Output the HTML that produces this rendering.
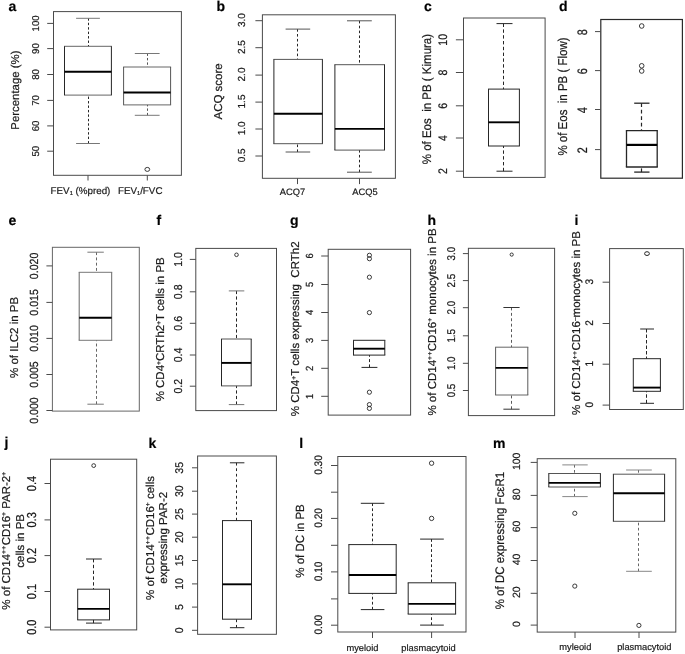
<!DOCTYPE html>
<html><head><meta charset="utf-8"><style>
html,body{margin:0;padding:0;background:#fff;width:685px;height:654px;overflow:hidden;}
svg{display:block;font-family:"Liberation Sans", sans-serif;filter:grayscale(1) blur(0.25px);text-rendering:geometricPrecision;}
text{stroke:#1a1a1a;stroke-width:0.2;}
</style></head><body>
<svg width="685" height="654" viewBox="0 0 685 654">
<rect x="0" y="0" width="685" height="654" fill="#fff"/>
<rect x="53.50" y="11.60" width="127.90" height="163.70" fill="none" stroke="#4a4a4a" stroke-width="1.0"/>
<line x1="47.20" y1="23.40" x2="53.50" y2="23.40" stroke="#4a4a4a" stroke-width="1.0"/>
<text transform="translate(38.60,23.40) rotate(-90) scale(1.0,1.03)" font-size="9.6" text-anchor="middle" fill="#1a1a1a" xml:space="preserve">100</text>
<line x1="47.20" y1="48.60" x2="53.50" y2="48.60" stroke="#4a4a4a" stroke-width="1.0"/>
<text transform="translate(38.60,48.60) rotate(-90) scale(1.0,1.03)" font-size="9.6" text-anchor="middle" fill="#1a1a1a" xml:space="preserve">90</text>
<line x1="47.20" y1="74.50" x2="53.50" y2="74.50" stroke="#4a4a4a" stroke-width="1.0"/>
<text transform="translate(38.60,74.50) rotate(-90) scale(1.0,1.03)" font-size="9.6" text-anchor="middle" fill="#1a1a1a" xml:space="preserve">80</text>
<line x1="47.20" y1="100.40" x2="53.50" y2="100.40" stroke="#4a4a4a" stroke-width="1.0"/>
<text transform="translate(38.60,100.40) rotate(-90) scale(1.0,1.03)" font-size="9.6" text-anchor="middle" fill="#1a1a1a" xml:space="preserve">70</text>
<line x1="47.20" y1="125.90" x2="53.50" y2="125.90" stroke="#4a4a4a" stroke-width="1.0"/>
<text transform="translate(38.60,125.90) rotate(-90) scale(1.0,1.03)" font-size="9.6" text-anchor="middle" fill="#1a1a1a" xml:space="preserve">60</text>
<line x1="47.20" y1="151.20" x2="53.50" y2="151.20" stroke="#4a4a4a" stroke-width="1.0"/>
<text transform="translate(38.60,151.20) rotate(-90) scale(1.0,1.03)" font-size="9.6" text-anchor="middle" fill="#1a1a1a" xml:space="preserve">50</text>
<text transform="translate(19.40,90.10) rotate(-90)" font-size="11.4" text-anchor="middle" fill="#1a1a1a" xml:space="preserve">Percentage (%)</text>
<line x1="88.00" y1="175.30" x2="88.00" y2="180.50" stroke="#4a4a4a" stroke-width="1.0"/>
<text x="80.50" y="194.30" font-size="9.8" text-anchor="middle" fill="#1a1a1a" xml:space="preserve">FEV<tspan dy="1.18" font-size="5.68">1</tspan><tspan dy="-1.18"> (%pred)</tspan></text>
<line x1="147.30" y1="175.30" x2="147.30" y2="180.50" stroke="#4a4a4a" stroke-width="1.0"/>
<text x="140.20" y="194.30" font-size="9.8" text-anchor="middle" fill="#1a1a1a" xml:space="preserve">FEV<tspan dy="1.18" font-size="5.68">1</tspan><tspan dy="-1.18">/FVC</tspan></text>
<line x1="88.50" y1="18.30" x2="88.50" y2="46.30" stroke="#262626" stroke-width="1.0" stroke-dasharray="2.4,2.05"/>
<line x1="76.10" y1="18.30" x2="99.90" y2="18.30" stroke="#777" stroke-width="1.0"/>
<line x1="88.50" y1="143.50" x2="88.50" y2="95.10" stroke="#262626" stroke-width="1.0" stroke-dasharray="2.4,2.05"/>
<line x1="76.10" y1="143.50" x2="99.90" y2="143.50" stroke="#777" stroke-width="1.0"/>
<line x1="64.00" y1="46.30" x2="111.90" y2="46.30" stroke="#666" stroke-width="1.0"/>
<line x1="64.00" y1="95.10" x2="111.90" y2="95.10" stroke="#666" stroke-width="1.0"/>
<line x1="64.50" y1="46.30" x2="64.50" y2="95.10" stroke="#262626" stroke-width="1.0"/>
<line x1="111.40" y1="46.30" x2="111.40" y2="95.10" stroke="#262626" stroke-width="1.0"/>
<line x1="64.50" y1="71.80" x2="111.40" y2="71.80" stroke="#000" stroke-width="1.9"/>
<line x1="147.50" y1="53.50" x2="147.50" y2="67.00" stroke="#555" stroke-width="1.0" stroke-dasharray="2.4,2.05"/>
<line x1="134.80" y1="53.50" x2="159.60" y2="53.50" stroke="#777" stroke-width="1.0"/>
<line x1="147.50" y1="115.30" x2="147.50" y2="104.90" stroke="#555" stroke-width="1.0" stroke-dasharray="2.4,2.05"/>
<line x1="134.80" y1="115.30" x2="159.60" y2="115.30" stroke="#777" stroke-width="1.0"/>
<line x1="123.10" y1="67.00" x2="171.10" y2="67.00" stroke="#666" stroke-width="1.0"/>
<line x1="123.10" y1="104.90" x2="171.10" y2="104.90" stroke="#666" stroke-width="1.0"/>
<line x1="123.60" y1="67.00" x2="123.60" y2="104.90" stroke="#555" stroke-width="1.0"/>
<line x1="170.60" y1="67.00" x2="170.60" y2="104.90" stroke="#555" stroke-width="1.0"/>
<line x1="123.60" y1="92.50" x2="170.60" y2="92.50" stroke="#000" stroke-width="1.9"/>
<ellipse cx="147.30" cy="169.40" rx="2.4" ry="2.0" fill="none" stroke="#262626" stroke-width="0.9"/>
<text x="8.40" y="11.00" font-size="14" text-anchor="start" fill="#000" font-weight="bold" xml:space="preserve">a</text>
<rect x="262.40" y="14.80" width="133.00" height="163.50" fill="none" stroke="#4a4a4a" stroke-width="1.0"/>
<line x1="255.40" y1="20.70" x2="262.40" y2="20.70" stroke="#4a4a4a" stroke-width="1.0"/>
<text transform="translate(245.20,20.10) rotate(-90) scale(1.0,1.02)" font-size="10" text-anchor="middle" fill="#1a1a1a" xml:space="preserve">3.0</text>
<line x1="255.40" y1="47.70" x2="262.40" y2="47.70" stroke="#4a4a4a" stroke-width="1.0"/>
<text transform="translate(245.20,47.10) rotate(-90) scale(1.0,1.02)" font-size="10" text-anchor="middle" fill="#1a1a1a" xml:space="preserve">2.5</text>
<line x1="255.40" y1="75.10" x2="262.40" y2="75.10" stroke="#4a4a4a" stroke-width="1.0"/>
<text transform="translate(245.20,74.50) rotate(-90) scale(1.0,1.02)" font-size="10" text-anchor="middle" fill="#1a1a1a" xml:space="preserve">2.0</text>
<line x1="255.40" y1="102.10" x2="262.40" y2="102.10" stroke="#4a4a4a" stroke-width="1.0"/>
<text transform="translate(245.20,101.50) rotate(-90) scale(1.0,1.02)" font-size="10" text-anchor="middle" fill="#1a1a1a" xml:space="preserve">1.5</text>
<line x1="255.40" y1="129.00" x2="262.40" y2="129.00" stroke="#4a4a4a" stroke-width="1.0"/>
<text transform="translate(245.20,128.40) rotate(-90) scale(1.0,1.02)" font-size="10" text-anchor="middle" fill="#1a1a1a" xml:space="preserve">1.0</text>
<line x1="255.40" y1="156.00" x2="262.40" y2="156.00" stroke="#4a4a4a" stroke-width="1.0"/>
<text transform="translate(245.20,155.40) rotate(-90) scale(1.0,1.02)" font-size="10" text-anchor="middle" fill="#1a1a1a" xml:space="preserve">0.5</text>
<text transform="translate(222.20,91.40) rotate(-90)" font-size="11.5" text-anchor="middle" fill="#1a1a1a" xml:space="preserve">ACQ score</text>
<line x1="297.50" y1="178.30" x2="297.50" y2="184.10" stroke="#4a4a4a" stroke-width="1.0"/>
<text x="292.50" y="194.50" font-size="9.3" text-anchor="middle" fill="#1a1a1a" xml:space="preserve">ACQ7</text>
<line x1="359.50" y1="178.30" x2="359.50" y2="184.10" stroke="#4a4a4a" stroke-width="1.0"/>
<text x="365.00" y="194.50" font-size="9.3" text-anchor="middle" fill="#1a1a1a" xml:space="preserve">ACQ5</text>
<line x1="297.50" y1="29.10" x2="297.50" y2="59.40" stroke="#262626" stroke-width="1.0" stroke-dasharray="2.6,2.3"/>
<line x1="285.60" y1="29.10" x2="310.20" y2="29.10" stroke="#555" stroke-width="1.0"/>
<line x1="297.50" y1="152.00" x2="297.50" y2="143.70" stroke="#262626" stroke-width="1.0" stroke-dasharray="2.6,2.3"/>
<line x1="285.60" y1="152.00" x2="310.20" y2="152.00" stroke="#555" stroke-width="1.0"/>
<line x1="273.40" y1="59.40" x2="322.90" y2="59.40" stroke="#555" stroke-width="1.0"/>
<line x1="273.40" y1="143.70" x2="322.90" y2="143.70" stroke="#555" stroke-width="1.0"/>
<line x1="273.90" y1="59.40" x2="273.90" y2="143.70" stroke="#262626" stroke-width="1.0"/>
<line x1="322.40" y1="59.40" x2="322.40" y2="143.70" stroke="#262626" stroke-width="1.0"/>
<line x1="273.90" y1="113.80" x2="322.40" y2="113.80" stroke="#000" stroke-width="1.9"/>
<line x1="359.50" y1="20.80" x2="359.50" y2="64.70" stroke="#262626" stroke-width="1.0" stroke-dasharray="2.6,2.3"/>
<line x1="347.00" y1="20.80" x2="371.80" y2="20.80" stroke="#555" stroke-width="1.0"/>
<line x1="359.50" y1="172.20" x2="359.50" y2="150.10" stroke="#262626" stroke-width="1.0" stroke-dasharray="2.6,2.3"/>
<line x1="347.00" y1="172.20" x2="371.80" y2="172.20" stroke="#555" stroke-width="1.0"/>
<line x1="334.40" y1="64.70" x2="385.00" y2="64.70" stroke="#555" stroke-width="1.0"/>
<line x1="334.40" y1="150.10" x2="385.00" y2="150.10" stroke="#555" stroke-width="1.0"/>
<line x1="334.90" y1="64.70" x2="334.90" y2="150.10" stroke="#262626" stroke-width="1.0"/>
<line x1="384.50" y1="64.70" x2="384.50" y2="150.10" stroke="#262626" stroke-width="1.0"/>
<line x1="334.90" y1="128.90" x2="384.50" y2="128.90" stroke="#000" stroke-width="1.9"/>
<text x="216.50" y="11.00" font-size="14" text-anchor="start" fill="#000" font-weight="bold" xml:space="preserve">b</text>
<rect x="463.50" y="18.00" width="81.60" height="159.40" fill="none" stroke="#4a4a4a" stroke-width="1.0"/>
<line x1="455.90" y1="39.80" x2="463.50" y2="39.80" stroke="#4a4a4a" stroke-width="1.0"/>
<text transform="translate(447.00,39.80) rotate(-90) scale(1.0,1.18)" font-size="10.5" text-anchor="middle" fill="#1a1a1a" xml:space="preserve">10</text>
<line x1="455.90" y1="72.50" x2="463.50" y2="72.50" stroke="#4a4a4a" stroke-width="1.0"/>
<text transform="translate(447.00,72.50) rotate(-90) scale(1.0,1.18)" font-size="10.5" text-anchor="middle" fill="#1a1a1a" xml:space="preserve">8</text>
<line x1="455.90" y1="105.80" x2="463.50" y2="105.80" stroke="#4a4a4a" stroke-width="1.0"/>
<text transform="translate(447.00,105.80) rotate(-90) scale(1.0,1.18)" font-size="10.5" text-anchor="middle" fill="#1a1a1a" xml:space="preserve">6</text>
<line x1="455.90" y1="138.00" x2="463.50" y2="138.00" stroke="#4a4a4a" stroke-width="1.0"/>
<text transform="translate(447.00,138.00) rotate(-90) scale(1.0,1.18)" font-size="10.5" text-anchor="middle" fill="#1a1a1a" xml:space="preserve">4</text>
<line x1="455.90" y1="171.20" x2="463.50" y2="171.20" stroke="#4a4a4a" stroke-width="1.0"/>
<text transform="translate(447.00,171.20) rotate(-90) scale(1.0,1.18)" font-size="10.5" text-anchor="middle" fill="#1a1a1a" xml:space="preserve">2</text>
<text transform="translate(430.80,99.10) rotate(-90) scale(1.0,1.08)" font-size="11.5" text-anchor="middle" fill="#1a1a1a" xml:space="preserve">% of Eos  in PB ( Kimura)</text>
<line x1="503.50" y1="23.60" x2="503.50" y2="89.10" stroke="#262626" stroke-width="1.0" stroke-dasharray="3.4,2.4"/>
<line x1="496.50" y1="23.60" x2="512.50" y2="23.60" stroke="#262626" stroke-width="1.0"/>
<line x1="503.50" y1="171.20" x2="503.50" y2="146.00" stroke="#262626" stroke-width="1.0" stroke-dasharray="3.4,2.4"/>
<line x1="496.50" y1="171.20" x2="512.50" y2="171.20" stroke="#262626" stroke-width="1.0"/>
<line x1="488.00" y1="89.10" x2="519.90" y2="89.10" stroke="#262626" stroke-width="1.0"/>
<line x1="488.00" y1="146.00" x2="519.90" y2="146.00" stroke="#262626" stroke-width="1.0"/>
<line x1="488.50" y1="89.10" x2="488.50" y2="146.00" stroke="#262626" stroke-width="1.0"/>
<line x1="519.40" y1="89.10" x2="519.40" y2="146.00" stroke="#262626" stroke-width="1.0"/>
<line x1="488.50" y1="122.30" x2="519.40" y2="122.30" stroke="#000" stroke-width="1.9"/>
<text x="424.10" y="11.00" font-size="14" text-anchor="start" fill="#000" font-weight="bold" xml:space="preserve">c</text>
<rect x="600.80" y="19.50" width="81.60" height="158.70" fill="none" stroke="#2a2a2a" stroke-width="1.2"/>
<line x1="595.00" y1="31.60" x2="600.80" y2="31.60" stroke="#4a4a4a" stroke-width="1.0"/>
<text transform="translate(586.90,32.30) rotate(-90) scale(1.0,1.27)" font-size="10.8" text-anchor="middle" fill="#1a1a1a" xml:space="preserve">8</text>
<line x1="595.00" y1="70.60" x2="600.80" y2="70.60" stroke="#4a4a4a" stroke-width="1.0"/>
<text transform="translate(586.90,71.30) rotate(-90) scale(1.0,1.27)" font-size="10.8" text-anchor="middle" fill="#1a1a1a" xml:space="preserve">6</text>
<line x1="595.00" y1="109.50" x2="600.80" y2="109.50" stroke="#4a4a4a" stroke-width="1.0"/>
<text transform="translate(586.90,110.20) rotate(-90) scale(1.0,1.27)" font-size="10.8" text-anchor="middle" fill="#1a1a1a" xml:space="preserve">4</text>
<line x1="595.00" y1="149.60" x2="600.80" y2="149.60" stroke="#4a4a4a" stroke-width="1.0"/>
<text transform="translate(586.90,150.30) rotate(-90) scale(1.0,1.27)" font-size="10.8" text-anchor="middle" fill="#1a1a1a" xml:space="preserve">2</text>
<text transform="translate(567.30,96.50) rotate(-90) scale(1.0,1.12)" font-size="11.5" text-anchor="middle" fill="#1a1a1a" xml:space="preserve">% of Eos  in PB ( Flow)</text>
<line x1="641.50" y1="103.20" x2="641.50" y2="130.60" stroke="#262626" stroke-width="1.2" stroke-dasharray="3.7,2.8"/>
<line x1="634.20" y1="103.20" x2="649.50" y2="103.20" stroke="#262626" stroke-width="1.3"/>
<line x1="641.50" y1="172.10" x2="641.50" y2="167.00" stroke="#262626" stroke-width="1.2" stroke-dasharray="3.7,2.8"/>
<line x1="634.20" y1="172.10" x2="649.50" y2="172.10" stroke="#262626" stroke-width="1.3"/>
<line x1="625.85" y1="130.60" x2="657.85" y2="130.60" stroke="#262626" stroke-width="1.3"/>
<line x1="625.85" y1="167.00" x2="657.85" y2="167.00" stroke="#262626" stroke-width="1.3"/>
<line x1="626.50" y1="130.60" x2="626.50" y2="167.00" stroke="#262626" stroke-width="1.3"/>
<line x1="657.20" y1="130.60" x2="657.20" y2="167.00" stroke="#262626" stroke-width="1.3"/>
<line x1="626.50" y1="144.90" x2="657.20" y2="144.90" stroke="#000" stroke-width="2.2"/>
<circle cx="641.70" cy="26.00" r="2.3" fill="none" stroke="#262626" stroke-width="0.9"/>
<circle cx="641.70" cy="65.80" r="2.3" fill="none" stroke="#262626" stroke-width="0.9"/>
<circle cx="641.70" cy="71.00" r="2.3" fill="none" stroke="#262626" stroke-width="0.9"/>
<text x="558.90" y="11.00" font-size="14" text-anchor="start" fill="#000" font-weight="bold" xml:space="preserve">d</text>
<rect x="52.40" y="247.30" width="86.90" height="163.80" fill="none" stroke="#666" stroke-width="1.0"/>
<line x1="46.40" y1="265.90" x2="52.40" y2="265.90" stroke="#4a4a4a" stroke-width="1.0"/>
<text transform="translate(38.10,265.90) rotate(-90) scale(1.0,1.11)" font-size="10.6" text-anchor="middle" fill="#1a1a1a" xml:space="preserve">0.020</text>
<line x1="46.40" y1="302.40" x2="52.40" y2="302.40" stroke="#4a4a4a" stroke-width="1.0"/>
<text transform="translate(38.10,302.40) rotate(-90) scale(1.0,1.11)" font-size="10.6" text-anchor="middle" fill="#1a1a1a" xml:space="preserve">0.015</text>
<line x1="46.40" y1="338.40" x2="52.40" y2="338.40" stroke="#4a4a4a" stroke-width="1.0"/>
<text transform="translate(38.10,338.40) rotate(-90) scale(1.0,1.11)" font-size="10.6" text-anchor="middle" fill="#1a1a1a" xml:space="preserve">0.010</text>
<line x1="46.40" y1="374.50" x2="52.40" y2="374.50" stroke="#4a4a4a" stroke-width="1.0"/>
<text transform="translate(38.10,374.50) rotate(-90) scale(1.0,1.11)" font-size="10.6" text-anchor="middle" fill="#1a1a1a" xml:space="preserve">0.005</text>
<line x1="46.40" y1="410.50" x2="52.40" y2="410.50" stroke="#4a4a4a" stroke-width="1.0"/>
<text transform="translate(38.10,410.50) rotate(-90) scale(1.0,1.11)" font-size="10.6" text-anchor="middle" fill="#1a1a1a" xml:space="preserve">0.000</text>
<text transform="translate(18.30,337.40) rotate(-90)" font-size="11.5" text-anchor="middle" fill="#1a1a1a" xml:space="preserve">% of ILC2 in PB</text>
<line x1="96.50" y1="252.20" x2="96.50" y2="272.30" stroke="#666" stroke-width="1.0" stroke-dasharray="2.9,2.35"/>
<line x1="87.40" y1="252.20" x2="103.80" y2="252.20" stroke="#777" stroke-width="1.0"/>
<line x1="96.50" y1="404.20" x2="96.50" y2="340.30" stroke="#666" stroke-width="1.0" stroke-dasharray="2.9,2.35"/>
<line x1="87.40" y1="404.20" x2="103.80" y2="404.20" stroke="#777" stroke-width="1.0"/>
<line x1="78.70" y1="272.30" x2="112.20" y2="272.30" stroke="#777" stroke-width="1.0"/>
<line x1="78.70" y1="340.30" x2="112.20" y2="340.30" stroke="#777" stroke-width="1.0"/>
<line x1="79.20" y1="272.30" x2="79.20" y2="340.30" stroke="#666" stroke-width="1.0"/>
<line x1="111.70" y1="272.30" x2="111.70" y2="340.30" stroke="#666" stroke-width="1.0"/>
<line x1="79.20" y1="317.80" x2="111.70" y2="317.80" stroke="#000" stroke-width="1.9"/>
<text x="8.40" y="225.00" font-size="14" text-anchor="start" fill="#000" font-weight="bold" xml:space="preserve">e</text>
<rect x="195.80" y="248.40" width="80.70" height="162.20" fill="none" stroke="#4a4a4a" stroke-width="1.0"/>
<line x1="189.80" y1="259.40" x2="195.80" y2="259.40" stroke="#4a4a4a" stroke-width="1.0"/>
<text transform="translate(181.80,259.40) rotate(-90) scale(1.0,1.085)" font-size="10.6" text-anchor="middle" fill="#1a1a1a" xml:space="preserve">1.0</text>
<line x1="189.80" y1="291.80" x2="195.80" y2="291.80" stroke="#4a4a4a" stroke-width="1.0"/>
<text transform="translate(181.80,291.80) rotate(-90) scale(1.0,1.085)" font-size="10.6" text-anchor="middle" fill="#1a1a1a" xml:space="preserve">0.8</text>
<line x1="189.80" y1="323.30" x2="195.80" y2="323.30" stroke="#4a4a4a" stroke-width="1.0"/>
<text transform="translate(181.80,323.30) rotate(-90) scale(1.0,1.085)" font-size="10.6" text-anchor="middle" fill="#1a1a1a" xml:space="preserve">0.6</text>
<line x1="189.80" y1="355.00" x2="195.80" y2="355.00" stroke="#4a4a4a" stroke-width="1.0"/>
<text transform="translate(181.80,355.00) rotate(-90) scale(1.0,1.085)" font-size="10.6" text-anchor="middle" fill="#1a1a1a" xml:space="preserve">0.4</text>
<line x1="189.80" y1="386.20" x2="195.80" y2="386.20" stroke="#4a4a4a" stroke-width="1.0"/>
<text transform="translate(181.80,386.20) rotate(-90) scale(1.0,1.085)" font-size="10.6" text-anchor="middle" fill="#1a1a1a" xml:space="preserve">0.2</text>
<text transform="translate(164.20,329.30) rotate(-90)" font-size="11.5" text-anchor="middle" fill="#1a1a1a" xml:space="preserve">% CD4<tspan dy="-3.45" font-size="6.67">+</tspan><tspan dy="3.45">CRTh2</tspan><tspan dy="-3.45" font-size="6.67">+</tspan><tspan dy="3.45">T cells in PB</tspan></text>
<line x1="236.50" y1="290.90" x2="236.50" y2="339.00" stroke="#262626" stroke-width="1.0" stroke-dasharray="3.2,2.3"/>
<line x1="228.80" y1="290.90" x2="244.30" y2="290.90" stroke="#777" stroke-width="1.0"/>
<line x1="236.50" y1="404.60" x2="236.50" y2="385.90" stroke="#262626" stroke-width="1.0" stroke-dasharray="3.2,2.3"/>
<line x1="228.80" y1="404.60" x2="244.30" y2="404.60" stroke="#777" stroke-width="1.0"/>
<line x1="221.00" y1="339.00" x2="251.70" y2="339.00" stroke="#555" stroke-width="1.0"/>
<line x1="221.00" y1="385.90" x2="251.70" y2="385.90" stroke="#555" stroke-width="1.0"/>
<line x1="221.50" y1="339.00" x2="221.50" y2="385.90" stroke="#262626" stroke-width="1.0"/>
<line x1="251.20" y1="339.00" x2="251.20" y2="385.90" stroke="#262626" stroke-width="1.0"/>
<line x1="221.50" y1="362.90" x2="251.20" y2="362.90" stroke="#000" stroke-width="1.9"/>
<circle cx="236.50" cy="254.80" r="1.8" fill="none" stroke="#262626" stroke-width="0.9"/>
<text x="156.50" y="225.00" font-size="14" text-anchor="start" fill="#000" font-weight="bold" xml:space="preserve">f</text>
<rect x="328.20" y="249.30" width="82.40" height="165.80" fill="none" stroke="#4a4a4a" stroke-width="1.0"/>
<line x1="321.20" y1="256.00" x2="328.20" y2="256.00" stroke="#4a4a4a" stroke-width="1.0"/>
<text transform="translate(313.00,256.00) rotate(-90) scale(1.0,1.1)" font-size="9.4" text-anchor="middle" fill="#1a1a1a" xml:space="preserve">6</text>
<line x1="321.20" y1="284.50" x2="328.20" y2="284.50" stroke="#4a4a4a" stroke-width="1.0"/>
<text transform="translate(313.00,284.50) rotate(-90) scale(1.0,1.1)" font-size="9.4" text-anchor="middle" fill="#1a1a1a" xml:space="preserve">5</text>
<line x1="321.20" y1="312.50" x2="328.20" y2="312.50" stroke="#4a4a4a" stroke-width="1.0"/>
<text transform="translate(313.00,312.50) rotate(-90) scale(1.0,1.1)" font-size="9.4" text-anchor="middle" fill="#1a1a1a" xml:space="preserve">4</text>
<line x1="321.20" y1="340.40" x2="328.20" y2="340.40" stroke="#4a4a4a" stroke-width="1.0"/>
<text transform="translate(313.00,340.40) rotate(-90) scale(1.0,1.1)" font-size="9.4" text-anchor="middle" fill="#1a1a1a" xml:space="preserve">3</text>
<line x1="321.20" y1="368.30" x2="328.20" y2="368.30" stroke="#4a4a4a" stroke-width="1.0"/>
<text transform="translate(313.00,368.30) rotate(-90) scale(1.0,1.1)" font-size="9.4" text-anchor="middle" fill="#1a1a1a" xml:space="preserve">2</text>
<line x1="321.20" y1="396.30" x2="328.20" y2="396.30" stroke="#4a4a4a" stroke-width="1.0"/>
<text transform="translate(313.00,396.30) rotate(-90) scale(1.0,1.1)" font-size="9.4" text-anchor="middle" fill="#1a1a1a" xml:space="preserve">1</text>
<text transform="translate(299.40,328.80) rotate(-90)" font-size="11.5" text-anchor="middle" fill="#1a1a1a" xml:space="preserve">% CD4<tspan dy="-3.45" font-size="6.67">+</tspan><tspan dy="3.45">T cells expressing  CRTh2</tspan></text>
<line x1="369.50" y1="367.40" x2="369.50" y2="355.10" stroke="#262626" stroke-width="1.0" stroke-dasharray="3,2.3"/>
<line x1="361.50" y1="367.40" x2="377.40" y2="367.40" stroke="#262626" stroke-width="1.0"/>
<line x1="353.00" y1="340.30" x2="385.30" y2="340.30" stroke="#262626" stroke-width="1.0"/>
<line x1="353.00" y1="355.10" x2="385.30" y2="355.10" stroke="#262626" stroke-width="1.0"/>
<line x1="353.50" y1="340.30" x2="353.50" y2="355.10" stroke="#262626" stroke-width="1.0"/>
<line x1="384.80" y1="340.30" x2="384.80" y2="355.10" stroke="#262626" stroke-width="1.0"/>
<line x1="353.50" y1="348.70" x2="384.80" y2="348.70" stroke="#000" stroke-width="1.9"/>
<circle cx="369.40" cy="255.30" r="2.1" fill="none" stroke="#262626" stroke-width="0.9"/>
<circle cx="369.40" cy="258.70" r="2.1" fill="none" stroke="#262626" stroke-width="0.9"/>
<circle cx="369.40" cy="277.20" r="2.1" fill="none" stroke="#262626" stroke-width="0.9"/>
<circle cx="369.40" cy="312.60" r="2.1" fill="none" stroke="#262626" stroke-width="0.9"/>
<circle cx="369.40" cy="392.20" r="2.1" fill="none" stroke="#262626" stroke-width="0.9"/>
<circle cx="369.40" cy="404.60" r="2.1" fill="none" stroke="#262626" stroke-width="0.9"/>
<circle cx="369.40" cy="408.40" r="2.1" fill="none" stroke="#262626" stroke-width="0.9"/>
<text x="289.90" y="225.00" font-size="14" text-anchor="start" fill="#000" font-weight="bold" xml:space="preserve">g</text>
<rect x="468.40" y="248.30" width="86.20" height="167.30" fill="none" stroke="#4a4a4a" stroke-width="1.0"/>
<line x1="462.90" y1="253.60" x2="468.40" y2="253.60" stroke="#4a4a4a" stroke-width="1.0"/>
<text transform="translate(454.80,253.60) rotate(-90) scale(1.0,1.15)" font-size="9.8" text-anchor="middle" fill="#1a1a1a" xml:space="preserve">3.0</text>
<line x1="462.90" y1="280.60" x2="468.40" y2="280.60" stroke="#4a4a4a" stroke-width="1.0"/>
<text transform="translate(454.80,280.60) rotate(-90) scale(1.0,1.15)" font-size="9.8" text-anchor="middle" fill="#1a1a1a" xml:space="preserve">2.5</text>
<line x1="462.90" y1="307.70" x2="468.40" y2="307.70" stroke="#4a4a4a" stroke-width="1.0"/>
<text transform="translate(454.80,307.70) rotate(-90) scale(1.0,1.15)" font-size="9.8" text-anchor="middle" fill="#1a1a1a" xml:space="preserve">2.0</text>
<line x1="462.90" y1="335.80" x2="468.40" y2="335.80" stroke="#4a4a4a" stroke-width="1.0"/>
<text transform="translate(454.80,335.80) rotate(-90) scale(1.0,1.15)" font-size="9.8" text-anchor="middle" fill="#1a1a1a" xml:space="preserve">1.5</text>
<line x1="462.90" y1="363.30" x2="468.40" y2="363.30" stroke="#4a4a4a" stroke-width="1.0"/>
<text transform="translate(454.80,363.30) rotate(-90) scale(1.0,1.15)" font-size="9.8" text-anchor="middle" fill="#1a1a1a" xml:space="preserve">1.0</text>
<line x1="462.90" y1="390.50" x2="468.40" y2="390.50" stroke="#4a4a4a" stroke-width="1.0"/>
<text transform="translate(454.80,390.50) rotate(-90) scale(1.0,1.15)" font-size="9.8" text-anchor="middle" fill="#1a1a1a" xml:space="preserve">0.5</text>
<text transform="translate(435.50,322.00) rotate(-90)" font-size="11.5" text-anchor="middle" fill="#1a1a1a" xml:space="preserve">% of CD14<tspan dy="-3.45" font-size="6.67" letter-spacing="0.5">++</tspan><tspan dy="3.45">CD16</tspan><tspan dy="-3.45" font-size="6.67">+</tspan><tspan dy="3.45"> monocytes in PB</tspan></text>
<line x1="511.50" y1="307.50" x2="511.50" y2="347.20" stroke="#5a5a5a" stroke-width="1.0" stroke-dasharray="2.9,2.5"/>
<line x1="503.40" y1="307.50" x2="519.60" y2="307.50" stroke="#333" stroke-width="1.0"/>
<line x1="511.50" y1="409.20" x2="511.50" y2="395.00" stroke="#5a5a5a" stroke-width="1.0" stroke-dasharray="2.9,2.5"/>
<line x1="503.40" y1="409.20" x2="519.60" y2="409.20" stroke="#333" stroke-width="1.0"/>
<line x1="495.10" y1="347.20" x2="528.30" y2="347.20" stroke="#666" stroke-width="1.0"/>
<line x1="495.10" y1="395.00" x2="528.30" y2="395.00" stroke="#666" stroke-width="1.0"/>
<line x1="495.60" y1="347.20" x2="495.60" y2="395.00" stroke="#5a5a5a" stroke-width="1.0"/>
<line x1="527.80" y1="347.20" x2="527.80" y2="395.00" stroke="#5a5a5a" stroke-width="1.0"/>
<line x1="495.60" y1="367.90" x2="527.80" y2="367.90" stroke="#000" stroke-width="1.9"/>
<circle cx="511.70" cy="254.60" r="1.6" fill="none" stroke="#262626" stroke-width="0.9"/>
<text x="427.60" y="225.10" font-size="14" text-anchor="start" fill="#000" font-weight="bold" xml:space="preserve">h</text>
<rect x="609.60" y="248.60" width="73.70" height="160.90" fill="none" stroke="#4a4a4a" stroke-width="1.0"/>
<line x1="602.60" y1="282.20" x2="609.60" y2="282.20" stroke="#4a4a4a" stroke-width="1.0"/>
<text transform="translate(592.50,281.70) rotate(-90) scale(1.0,1.1)" font-size="10" text-anchor="middle" fill="#1a1a1a" xml:space="preserve">3</text>
<line x1="602.60" y1="323.50" x2="609.60" y2="323.50" stroke="#4a4a4a" stroke-width="1.0"/>
<text transform="translate(592.50,323.00) rotate(-90) scale(1.0,1.1)" font-size="10" text-anchor="middle" fill="#1a1a1a" xml:space="preserve">2</text>
<line x1="602.60" y1="364.20" x2="609.60" y2="364.20" stroke="#4a4a4a" stroke-width="1.0"/>
<text transform="translate(592.50,363.70) rotate(-90) scale(1.0,1.1)" font-size="10" text-anchor="middle" fill="#1a1a1a" xml:space="preserve">1</text>
<line x1="602.60" y1="405.10" x2="609.60" y2="405.10" stroke="#4a4a4a" stroke-width="1.0"/>
<text transform="translate(592.50,404.60) rotate(-90) scale(1.0,1.1)" font-size="10" text-anchor="middle" fill="#1a1a1a" xml:space="preserve">0</text>
<text transform="translate(580.40,323.00) rotate(-90)" font-size="11.5" text-anchor="middle" fill="#1a1a1a" xml:space="preserve">% of CD14<tspan dy="-3.45" font-size="6.67" letter-spacing="0.5">++</tspan><tspan dy="3.45">CD16</tspan><tspan dy="-3.45" font-size="6.67">–</tspan><tspan dy="3.45">monocytes in PB</tspan></text>
<line x1="646.50" y1="329.00" x2="646.50" y2="358.70" stroke="#262626" stroke-width="1.0" stroke-dasharray="3.5,2.0"/>
<line x1="640.20" y1="329.00" x2="654.00" y2="329.00" stroke="#262626" stroke-width="1.0"/>
<line x1="646.50" y1="403.30" x2="646.50" y2="391.30" stroke="#262626" stroke-width="1.0" stroke-dasharray="3.5,2.0"/>
<line x1="640.20" y1="403.30" x2="654.00" y2="403.30" stroke="#262626" stroke-width="1.0"/>
<line x1="632.80" y1="358.70" x2="660.90" y2="358.70" stroke="#262626" stroke-width="1.0"/>
<line x1="632.80" y1="391.30" x2="660.90" y2="391.30" stroke="#262626" stroke-width="1.0"/>
<line x1="633.30" y1="358.70" x2="633.30" y2="391.30" stroke="#262626" stroke-width="1.0"/>
<line x1="660.40" y1="358.70" x2="660.40" y2="391.30" stroke="#262626" stroke-width="1.0"/>
<line x1="633.30" y1="387.60" x2="660.40" y2="387.60" stroke="#000" stroke-width="1.9"/>
<ellipse cx="647.00" cy="253.60" rx="2.4" ry="1.9" fill="none" stroke="#262626" stroke-width="1.0"/>
<text x="574.50" y="224.60" font-size="14" text-anchor="start" fill="#000" font-weight="bold" xml:space="preserve">i</text>
<rect x="50.50" y="459.20" width="86.20" height="170.70" fill="none" stroke="#4a4a4a" stroke-width="1.0"/>
<line x1="44.50" y1="483.50" x2="50.50" y2="483.50" stroke="#4a4a4a" stroke-width="1.0"/>
<text transform="translate(36.10,483.50) rotate(-90) scale(1.0,1.18)" font-size="11" text-anchor="middle" fill="#1a1a1a" xml:space="preserve">0.4</text>
<line x1="44.50" y1="519.90" x2="50.50" y2="519.90" stroke="#4a4a4a" stroke-width="1.0"/>
<text transform="translate(36.10,519.90) rotate(-90) scale(1.0,1.18)" font-size="11" text-anchor="middle" fill="#1a1a1a" xml:space="preserve">0.3</text>
<line x1="44.50" y1="555.60" x2="50.50" y2="555.60" stroke="#4a4a4a" stroke-width="1.0"/>
<text transform="translate(36.10,555.60) rotate(-90) scale(1.0,1.18)" font-size="11" text-anchor="middle" fill="#1a1a1a" xml:space="preserve">0.2</text>
<line x1="44.50" y1="591.50" x2="50.50" y2="591.50" stroke="#4a4a4a" stroke-width="1.0"/>
<text transform="translate(36.10,591.50) rotate(-90) scale(1.0,1.18)" font-size="11" text-anchor="middle" fill="#1a1a1a" xml:space="preserve">0.1</text>
<line x1="44.50" y1="627.20" x2="50.50" y2="627.20" stroke="#4a4a4a" stroke-width="1.0"/>
<text transform="translate(36.10,627.20) rotate(-90) scale(1.0,1.18)" font-size="11" text-anchor="middle" fill="#1a1a1a" xml:space="preserve">0.0</text>
<text transform="translate(9.90,540.80) rotate(-90)" font-size="11.5" text-anchor="middle" fill="#1a1a1a" xml:space="preserve">% of CD14<tspan dy="-3.45" font-size="6.67" letter-spacing="0.5">++</tspan><tspan dy="3.45">CD16</tspan><tspan dy="-3.45" font-size="6.67">+</tspan><tspan dy="3.45"> PAR-2</tspan><tspan dy="-3.45" font-size="6.67">+</tspan><tspan dy="3.45">&#8203;</tspan></text>
<text transform="translate(23.50,540.80) rotate(-90)" font-size="11.5" text-anchor="middle" fill="#1a1a1a" xml:space="preserve">cells in PB</text>
<line x1="93.50" y1="559.00" x2="93.50" y2="589.20" stroke="#262626" stroke-width="1.0" stroke-dasharray="3.4,2.4"/>
<line x1="86.00" y1="559.00" x2="101.80" y2="559.00" stroke="#262626" stroke-width="1.0"/>
<line x1="93.50" y1="623.10" x2="93.50" y2="619.90" stroke="#262626" stroke-width="1.0" stroke-dasharray="3.4,2.4"/>
<line x1="86.00" y1="623.10" x2="101.80" y2="623.10" stroke="#262626" stroke-width="1.0"/>
<line x1="77.20" y1="589.20" x2="110.00" y2="589.20" stroke="#262626" stroke-width="1.0"/>
<line x1="77.20" y1="619.90" x2="110.00" y2="619.90" stroke="#262626" stroke-width="1.0"/>
<line x1="77.70" y1="589.20" x2="77.70" y2="619.90" stroke="#262626" stroke-width="1.0"/>
<line x1="109.50" y1="589.20" x2="109.50" y2="619.90" stroke="#262626" stroke-width="1.0"/>
<line x1="77.70" y1="608.90" x2="109.50" y2="608.90" stroke="#000" stroke-width="1.9"/>
<circle cx="93.70" cy="465.60" r="1.9" fill="none" stroke="#262626" stroke-width="0.9"/>
<text x="4.60" y="447.00" font-size="14" text-anchor="start" fill="#000" font-weight="bold" xml:space="preserve">j</text>
<rect x="197.60" y="456.00" width="78.80" height="178.30" fill="none" stroke="#4a4a4a" stroke-width="1.0"/>
<line x1="192.00" y1="467.80" x2="197.60" y2="467.80" stroke="#4a4a4a" stroke-width="1.0"/>
<text transform="translate(182.80,467.80) rotate(-90) scale(1.0,1.07)" font-size="10.5" text-anchor="middle" fill="#1a1a1a" xml:space="preserve">35</text>
<line x1="192.00" y1="491.20" x2="197.60" y2="491.20" stroke="#4a4a4a" stroke-width="1.0"/>
<text transform="translate(182.80,491.20) rotate(-90) scale(1.0,1.07)" font-size="10.5" text-anchor="middle" fill="#1a1a1a" xml:space="preserve">30</text>
<line x1="192.00" y1="514.10" x2="197.60" y2="514.10" stroke="#4a4a4a" stroke-width="1.0"/>
<text transform="translate(182.80,514.10) rotate(-90) scale(1.0,1.07)" font-size="10.5" text-anchor="middle" fill="#1a1a1a" xml:space="preserve">25</text>
<line x1="192.00" y1="537.20" x2="197.60" y2="537.20" stroke="#4a4a4a" stroke-width="1.0"/>
<text transform="translate(182.80,537.20) rotate(-90) scale(1.0,1.07)" font-size="10.5" text-anchor="middle" fill="#1a1a1a" xml:space="preserve">20</text>
<line x1="192.00" y1="560.50" x2="197.60" y2="560.50" stroke="#4a4a4a" stroke-width="1.0"/>
<text transform="translate(182.80,560.50) rotate(-90) scale(1.0,1.07)" font-size="10.5" text-anchor="middle" fill="#1a1a1a" xml:space="preserve">15</text>
<line x1="192.00" y1="583.90" x2="197.60" y2="583.90" stroke="#4a4a4a" stroke-width="1.0"/>
<text transform="translate(182.80,583.90) rotate(-90) scale(1.0,1.07)" font-size="10.5" text-anchor="middle" fill="#1a1a1a" xml:space="preserve">10</text>
<line x1="192.00" y1="607.10" x2="197.60" y2="607.10" stroke="#4a4a4a" stroke-width="1.0"/>
<text transform="translate(182.80,607.10) rotate(-90) scale(1.0,1.07)" font-size="10.5" text-anchor="middle" fill="#1a1a1a" xml:space="preserve">5</text>
<line x1="192.00" y1="630.30" x2="197.60" y2="630.30" stroke="#4a4a4a" stroke-width="1.0"/>
<text transform="translate(182.80,630.30) rotate(-90) scale(1.0,1.07)" font-size="10.5" text-anchor="middle" fill="#1a1a1a" xml:space="preserve">0</text>
<text transform="translate(153.60,538.00) rotate(-90)" font-size="11.5" text-anchor="middle" fill="#1a1a1a" xml:space="preserve">% of CD14<tspan dy="-3.45" font-size="6.67" letter-spacing="0.5">++</tspan><tspan dy="3.45">CD16</tspan><tspan dy="-3.45" font-size="6.67">+</tspan><tspan dy="3.45"> cells</tspan></text>
<text transform="translate(167.10,537.80) rotate(-90)" font-size="11.5" text-anchor="middle" fill="#1a1a1a" xml:space="preserve">expressing PAR-2</text>
<line x1="236.50" y1="462.80" x2="236.50" y2="520.60" stroke="#262626" stroke-width="1.0" stroke-dasharray="2.75,2.75"/>
<line x1="229.90" y1="462.80" x2="244.40" y2="462.80" stroke="#262626" stroke-width="1.0"/>
<line x1="236.50" y1="627.70" x2="236.50" y2="619.20" stroke="#262626" stroke-width="1.0" stroke-dasharray="2.75,2.75"/>
<line x1="229.90" y1="627.70" x2="244.40" y2="627.70" stroke="#262626" stroke-width="1.0"/>
<line x1="222.00" y1="520.60" x2="252.00" y2="520.60" stroke="#262626" stroke-width="1.0"/>
<line x1="222.00" y1="619.20" x2="252.00" y2="619.20" stroke="#262626" stroke-width="1.0"/>
<line x1="222.50" y1="520.60" x2="222.50" y2="619.20" stroke="#262626" stroke-width="1.0"/>
<line x1="251.50" y1="520.60" x2="251.50" y2="619.20" stroke="#262626" stroke-width="1.0"/>
<line x1="222.50" y1="584.30" x2="251.50" y2="584.30" stroke="#000" stroke-width="1.9"/>
<text x="148.40" y="448.00" font-size="14" text-anchor="start" fill="#000" font-weight="bold" xml:space="preserve">k</text>
<rect x="337.80" y="456.50" width="128.20" height="175.50" fill="none" stroke="#4a4a4a" stroke-width="1.0"/>
<line x1="331.00" y1="465.50" x2="337.80" y2="465.50" stroke="#4a4a4a" stroke-width="1.0"/>
<text transform="translate(321.80,465.00) rotate(-90) scale(1.0,1.07)" font-size="10.1" text-anchor="middle" fill="#1a1a1a" xml:space="preserve">0.30</text>
<line x1="331.00" y1="492.20" x2="337.80" y2="492.20" stroke="#4a4a4a" stroke-width="1.0"/>
<line x1="331.00" y1="518.40" x2="337.80" y2="518.40" stroke="#4a4a4a" stroke-width="1.0"/>
<text transform="translate(321.80,517.90) rotate(-90) scale(1.0,1.07)" font-size="10.1" text-anchor="middle" fill="#1a1a1a" xml:space="preserve">0.20</text>
<line x1="331.00" y1="545.30" x2="337.80" y2="545.30" stroke="#4a4a4a" stroke-width="1.0"/>
<line x1="331.00" y1="571.90" x2="337.80" y2="571.90" stroke="#4a4a4a" stroke-width="1.0"/>
<text transform="translate(321.80,571.40) rotate(-90) scale(1.0,1.07)" font-size="10.1" text-anchor="middle" fill="#1a1a1a" xml:space="preserve">0.10</text>
<line x1="331.00" y1="598.90" x2="337.80" y2="598.90" stroke="#4a4a4a" stroke-width="1.0"/>
<line x1="331.00" y1="625.20" x2="337.80" y2="625.20" stroke="#4a4a4a" stroke-width="1.0"/>
<text transform="translate(321.80,624.70) rotate(-90) scale(1.0,1.07)" font-size="10.1" text-anchor="middle" fill="#1a1a1a" xml:space="preserve">0.00</text>
<text transform="translate(303.70,541.00) rotate(-90) scale(1.0,1.03)" font-size="11.5" text-anchor="middle" fill="#1a1a1a" xml:space="preserve">% of DC in PB</text>
<line x1="372.50" y1="632.00" x2="372.50" y2="638.00" stroke="#4a4a4a" stroke-width="1.0"/>
<text x="362.50" y="651.20" font-size="9.3" text-anchor="middle" fill="#1a1a1a" xml:space="preserve">myeloid</text>
<line x1="431.60" y1="632.00" x2="431.60" y2="638.00" stroke="#4a4a4a" stroke-width="1.0"/>
<text x="428.50" y="651.20" font-size="9.3" text-anchor="middle" fill="#1a1a1a" xml:space="preserve">plasmacytoid</text>
<line x1="372.50" y1="503.30" x2="372.50" y2="544.60" stroke="#262626" stroke-width="1.0" stroke-dasharray="2.75,2.3"/>
<line x1="360.80" y1="503.30" x2="384.40" y2="503.30" stroke="#262626" stroke-width="1.0"/>
<line x1="372.50" y1="609.60" x2="372.50" y2="593.40" stroke="#262626" stroke-width="1.0" stroke-dasharray="2.75,2.3"/>
<line x1="360.80" y1="609.60" x2="384.40" y2="609.60" stroke="#262626" stroke-width="1.0"/>
<line x1="348.40" y1="544.60" x2="396.70" y2="544.60" stroke="#262626" stroke-width="1.0"/>
<line x1="348.40" y1="593.40" x2="396.70" y2="593.40" stroke="#262626" stroke-width="1.0"/>
<line x1="348.90" y1="544.60" x2="348.90" y2="593.40" stroke="#262626" stroke-width="1.0"/>
<line x1="396.20" y1="544.60" x2="396.20" y2="593.40" stroke="#262626" stroke-width="1.0"/>
<line x1="348.90" y1="575.00" x2="396.20" y2="575.00" stroke="#000" stroke-width="1.9"/>
<line x1="431.50" y1="539.10" x2="431.50" y2="582.80" stroke="#262626" stroke-width="1.0" stroke-dasharray="2.75,2.3"/>
<line x1="420.10" y1="539.10" x2="443.80" y2="539.10" stroke="#262626" stroke-width="1.0"/>
<line x1="431.50" y1="625.10" x2="431.50" y2="614.10" stroke="#262626" stroke-width="1.0" stroke-dasharray="2.75,2.3"/>
<line x1="420.10" y1="625.10" x2="443.80" y2="625.10" stroke="#262626" stroke-width="1.0"/>
<line x1="407.70" y1="582.80" x2="456.10" y2="582.80" stroke="#262626" stroke-width="1.0"/>
<line x1="407.70" y1="614.10" x2="456.10" y2="614.10" stroke="#262626" stroke-width="1.0"/>
<line x1="408.20" y1="582.80" x2="408.20" y2="614.10" stroke="#262626" stroke-width="1.0"/>
<line x1="455.60" y1="582.80" x2="455.60" y2="614.10" stroke="#262626" stroke-width="1.0"/>
<line x1="408.20" y1="603.90" x2="455.60" y2="603.90" stroke="#000" stroke-width="1.9"/>
<circle cx="431.60" cy="463.20" r="2.2" fill="none" stroke="#262626" stroke-width="0.9"/>
<circle cx="431.60" cy="518.40" r="2.2" fill="none" stroke="#262626" stroke-width="0.9"/>
<text x="299.20" y="448.00" font-size="14" text-anchor="start" fill="#000" font-weight="bold" xml:space="preserve">l</text>
<rect x="537.20" y="458.70" width="138.60" height="173.40" fill="none" stroke="#4a4a4a" stroke-width="1.0"/>
<line x1="530.70" y1="462.40" x2="537.20" y2="462.40" stroke="#4a4a4a" stroke-width="1.0"/>
<text transform="translate(519.90,461.30) rotate(-90)" font-size="10.5" text-anchor="middle" fill="#1a1a1a" xml:space="preserve">100</text>
<line x1="530.70" y1="495.40" x2="537.20" y2="495.40" stroke="#4a4a4a" stroke-width="1.0"/>
<text transform="translate(519.90,494.30) rotate(-90)" font-size="10.5" text-anchor="middle" fill="#1a1a1a" xml:space="preserve">80</text>
<line x1="530.70" y1="527.60" x2="537.20" y2="527.60" stroke="#4a4a4a" stroke-width="1.0"/>
<text transform="translate(519.90,526.50) rotate(-90)" font-size="10.5" text-anchor="middle" fill="#1a1a1a" xml:space="preserve">60</text>
<line x1="530.70" y1="560.50" x2="537.20" y2="560.50" stroke="#4a4a4a" stroke-width="1.0"/>
<text transform="translate(519.90,559.40) rotate(-90)" font-size="10.5" text-anchor="middle" fill="#1a1a1a" xml:space="preserve">40</text>
<line x1="530.70" y1="593.30" x2="537.20" y2="593.30" stroke="#4a4a4a" stroke-width="1.0"/>
<text transform="translate(519.90,592.20) rotate(-90)" font-size="10.5" text-anchor="middle" fill="#1a1a1a" xml:space="preserve">20</text>
<line x1="530.70" y1="625.10" x2="537.20" y2="625.10" stroke="#4a4a4a" stroke-width="1.0"/>
<text transform="translate(519.90,624.00) rotate(-90)" font-size="10.5" text-anchor="middle" fill="#1a1a1a" xml:space="preserve">0</text>
<text transform="translate(503.70,540.60) rotate(-90) scale(1.0,1.08)" font-size="11.5" text-anchor="middle" fill="#1a1a1a" xml:space="preserve">% of DC expressing FcεR1</text>
<line x1="575.00" y1="632.10" x2="575.00" y2="638.00" stroke="#4a4a4a" stroke-width="1.0"/>
<text x="575.30" y="649.70" font-size="9.3" text-anchor="middle" fill="#1a1a1a" xml:space="preserve">myleoid</text>
<line x1="639.00" y1="632.10" x2="639.00" y2="638.00" stroke="#4a4a4a" stroke-width="1.0"/>
<text x="644.30" y="649.70" font-size="9.3" text-anchor="middle" fill="#1a1a1a" xml:space="preserve">plasmacytoid</text>
<line x1="574.50" y1="464.90" x2="574.50" y2="473.50" stroke="#666" stroke-width="1.0" stroke-dasharray="2.7,2.4"/>
<line x1="562.30" y1="464.90" x2="587.70" y2="464.90" stroke="#888" stroke-width="1.0"/>
<line x1="574.50" y1="496.60" x2="574.50" y2="487.00" stroke="#666" stroke-width="1.0" stroke-dasharray="2.7,2.4"/>
<line x1="562.30" y1="496.60" x2="587.70" y2="496.60" stroke="#888" stroke-width="1.0"/>
<line x1="548.30" y1="473.50" x2="600.90" y2="473.50" stroke="#555" stroke-width="1.0"/>
<line x1="548.30" y1="487.00" x2="600.90" y2="487.00" stroke="#555" stroke-width="1.0"/>
<line x1="548.80" y1="473.50" x2="548.80" y2="487.00" stroke="#262626" stroke-width="1.0"/>
<line x1="600.40" y1="473.50" x2="600.40" y2="487.00" stroke="#262626" stroke-width="1.0"/>
<line x1="548.80" y1="482.90" x2="600.40" y2="482.90" stroke="#000" stroke-width="1.9"/>
<circle cx="574.80" cy="513.30" r="2.1" fill="none" stroke="#262626" stroke-width="0.9"/>
<circle cx="574.80" cy="586.10" r="2.1" fill="none" stroke="#262626" stroke-width="0.9"/>
<line x1="638.50" y1="470.00" x2="638.50" y2="474.20" stroke="#666" stroke-width="1.0" stroke-dasharray="2.7,2.4"/>
<line x1="626.10" y1="470.00" x2="651.80" y2="470.00" stroke="#888" stroke-width="1.0"/>
<line x1="638.50" y1="571.30" x2="638.50" y2="521.30" stroke="#666" stroke-width="1.0" stroke-dasharray="2.7,2.4"/>
<line x1="626.10" y1="571.30" x2="651.80" y2="571.30" stroke="#888" stroke-width="1.0"/>
<line x1="612.90" y1="474.20" x2="665.10" y2="474.20" stroke="#555" stroke-width="1.0"/>
<line x1="612.90" y1="521.30" x2="665.10" y2="521.30" stroke="#555" stroke-width="1.0"/>
<line x1="613.40" y1="474.20" x2="613.40" y2="521.30" stroke="#262626" stroke-width="1.0"/>
<line x1="664.60" y1="474.20" x2="664.60" y2="521.30" stroke="#262626" stroke-width="1.0"/>
<line x1="613.40" y1="493.30" x2="664.60" y2="493.30" stroke="#000" stroke-width="1.9"/>
<circle cx="638.90" cy="625.40" r="2.1" fill="none" stroke="#262626" stroke-width="0.9"/>
<text x="493.00" y="448.00" font-size="14" text-anchor="start" fill="#000" font-weight="bold" xml:space="preserve">m</text>
</svg>
</body></html>
